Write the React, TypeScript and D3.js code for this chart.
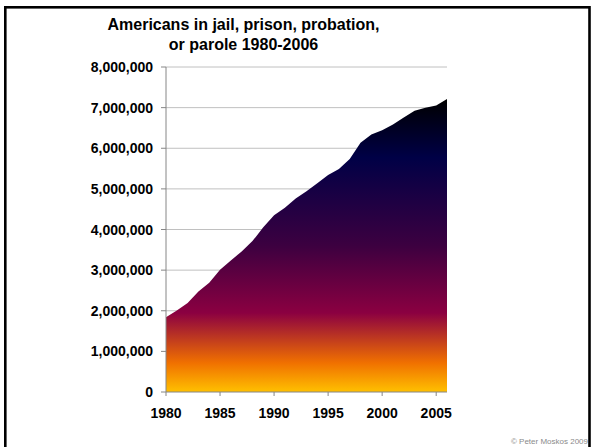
import React from "react";
import * as d3 from "d3";

const years: number[] = [
  1980, 1981, 1982, 1983, 1984, 1985, 1986, 1987, 1988, 1989, 1990, 1991, 1992,
  1993, 1994, 1995, 1996, 1997, 1998, 1999, 2000, 2001, 2002, 2003, 2004, 2005, 2006,
];
const totals: number[] = [
  1840400, 2006600, 2192600, 2475100, 2689200, 3011500, 3239400, 3459600, 3714100,
  4055600, 4348000, 4535600, 4762600, 4944000, 5141300, 5342900, 5490700, 5734900,
  6134200, 6340800, 6445100, 6581700, 6758800, 6924500, 6995100, 7051900, 7211400,
];
const yTicks: number[] = [0, 1000000, 2000000, 3000000, 4000000, 5000000, 6000000, 7000000, 8000000];
const xTickYears: number[] = [1980, 1985, 1990, 1995, 2000, 2005];
const titleLines: string[] = ["Americans in jail, prison, probation,", "or parole 1980-2006"];
const credit = "© Peter Moskos 2009";

const W = 594;
const H = 447;
const left = 166;
const right = 447;
const top = 67;
const bottom = 392;

export default function App() {
  const x = d3.scaleLinear().domain([1980, 2006]).range([left, right]);
  const y = d3.scaleLinear().domain([0, 8000000]).range([bottom, top]);
  const data = years.map((yr, i) => ({ yr, v: totals[i] }));
  const area = d3
    .area<{ yr: number; v: number }>()
    .x((d) => x(d.yr))
    .y0(y(0))
    .y1((d) => y(d.v));
  const fmt = d3.format(",");
  const font = "'Liberation Sans', Arial, sans-serif";

  return (
    <div style={{ position: "fixed", left: 0, top: 0 }}>
      <svg width={W} height={H} style={{ display: "block" }}>
        <defs>
          <linearGradient id="sunset" x1="0" y1="0" x2="0" y2="1">
            <stop offset="0" stopColor="#000000" />
            <stop offset="0.2" stopColor="#000046" />
            <stop offset="0.5" stopColor="#3c0040" />
            <stop offset="0.73" stopColor="#8b0041" />
            <stop offset="0.9" stopColor="#f07000" />
            <stop offset="1" stopColor="#ffc000" />
          </linearGradient>
        </defs>
        <rect x={0} y={0} width={W} height={H} fill="#ffffff" />
        <rect x={5.3} y={7.3} width={584.2} height={460} fill="none" stroke="#000" strokeWidth={2.6} />
        {titleLines.map((t, i) => (
          <text
            key={i}
            x={243.5}
            y={30 + i * 20}
            textAnchor="middle"
            fontFamily={font}
            fontWeight="bold"
            fontSize={16}
            fill="#000"
          >
            {t}
          </text>
        ))}
        {yTicks
          .filter((t) => t > 0)
          .map((t) => (
            <line key={t} x1={left} x2={right} y1={y(t)} y2={y(t)} stroke="#c0c0c0" strokeWidth={1} />
          ))}
        <path d={area(data) || ""} fill="url(#sunset)" />
        <line x1={left} x2={left} y1={top} y2={bottom} stroke="#868686" strokeWidth={1} />
        <line x1={left} x2={right} y1={bottom} y2={bottom} stroke="#868686" strokeWidth={1} />
        {yTicks.map((t) => (
          <g key={t}>
            <line x1={left - 5} x2={left} y1={y(t)} y2={y(t)} stroke="#868686" strokeWidth={1} />
            <text
              x={153}
              y={y(t) + 5}
              textAnchor="end"
              fontFamily={font}
              fontWeight="bold"
              fontSize={14}
              fill="#000"
            >
              {fmt(t)}
            </text>
          </g>
        ))}
        {xTickYears.map((yr) => (
          <g key={yr}>
            <line x1={x(yr)} x2={x(yr)} y1={bottom} y2={bottom + 4} stroke="#868686" strokeWidth={1} />
            <text
              x={x(yr)}
              y={418}
              textAnchor="middle"
              fontFamily={font}
              fontWeight="bold"
              fontSize={14}
              fill="#000"
            >
              {yr}
            </text>
          </g>
        ))}
        <text x={588} y={444} textAnchor="end" fontFamily={font} fontSize={8} fill="#8a8a8a">
          {credit}
        </text>
      </svg>
    </div>
  );
}
